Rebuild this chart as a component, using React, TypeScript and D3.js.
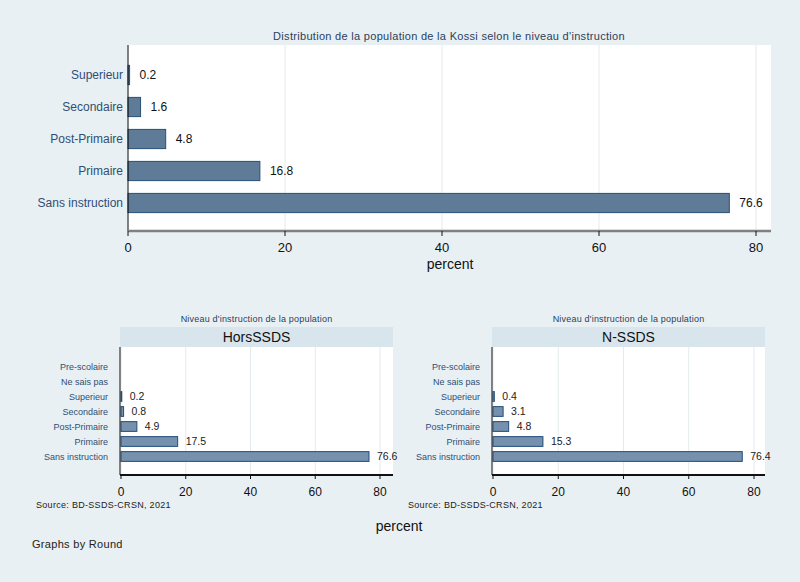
import React from "react";
import * as d3 from "d3";

const topCategories = ["Superieur", "Secondaire", "Post-Primaire", "Primaire", "Sans instruction"];
const topValues = [0.2, 1.6, 4.8, 16.8, 76.6];
const topLabels = ["0.2", "1.6", "4.8", "16.8", "76.6"];

const subCategories = ["Pre-scolaire", "Ne sais pas", "Superieur", "Secondaire", "Post-Primaire", "Primaire", "Sans instruction"];
const horsValues: (number | null)[] = [null, null, 0.2, 0.8, 4.9, 17.5, 76.6];
const horsLabels = ["", "", "0.2", "0.8", "4.9", "17.5", "76.6"];
const nValues: (number | null)[] = [null, null, 0.4, 3.1, 4.8, 15.3, 76.4];
const nLabels = ["", "", "0.4", "3.1", "4.8", "15.3", "76.4"];
const xTicks = [0, 20, 40, 60, 80];

const BG = "#e9f0f3";
const LABEL = "#2e4f74";
const FONT = "Liberation Sans, Arial, sans-serif";

function TopChart() {
  const x = d3.scaleLinear().domain([0, 80]).range([128, 756]);
  const y = d3.scaleBand().domain(topCategories).range([59, 219]).paddingInner(0.4).paddingOuter(0.2);
  const left = 128, right = 771, top = 45, bottom = 231;
  return (
    <g>
      <text x={449} y={40} textAnchor="middle" fontSize={11} letterSpacing={0.3} fill="#2a3f5c" fontFamily={FONT}>
        Distribution de la population de la Kossi selon le niveau d'instruction
      </text>
      <rect x={left} y={top} width={right - left} height={bottom - top} fill="#ffffff" />
      {xTicks.map((t) => (
        <line key={t} x1={x(t)} x2={x(t)} y1={top} y2={bottom} stroke="#e3eaee" strokeWidth={1} />
      ))}
      {topCategories.map((c, i) => (
        <g key={c}>
          <rect x={x(0)} y={y(c)!} width={x(topValues[i]) - x(0)} height={y.bandwidth()}
            fill="#5e7b97" stroke="#2a5078" strokeWidth={1} />
          <text x={x(topValues[i]) + 10} y={y(c)! + y.bandwidth() / 2 + 4} fontSize={12} fill="#111" fontFamily={FONT}>
            {topLabels[i]}
          </text>
          <text x={123} y={y(c)! + y.bandwidth() / 2 + 4} textAnchor="end" fontSize={12} fill={LABEL} fontFamily={FONT}>
            {c}
          </text>
        </g>
      ))}
      <line x1={left} x2={left} y1={top} y2={bottom} stroke="#111" strokeWidth={1} />
      <line x1={left} x2={right} y1={bottom} y2={bottom} stroke="#808080" strokeWidth={2.5} />
      {xTicks.map((t) => (
        <g key={t}>
          <line x1={x(t)} x2={x(t)} y1={bottom} y2={bottom + 5} stroke="#111" />
          <text x={x(t)} y={bottom + 21} textAnchor="middle" fontSize={13} fill="#111" fontFamily={FONT}>
            {t}
          </text>
        </g>
      ))}
      <text x={450} y={269} textAnchor="middle" fontSize={14} fill="#111" fontFamily={FONT}>
        percent
      </text>
    </g>
  );
}

function SubChart({ x0, x80, right, title, values, labels }: { x0: number; x80: number; right: number; title: string; values: (number | null)[]; labels: string[] }) {
  const x = d3.scaleLinear().domain([0, 80]).range([x0, x80]);
  const top = 347, bottom = 475, left = x0 - 1;
  const y = d3.scaleBand().domain(subCategories).range([359, 464]).paddingInner(0.35).paddingOuter(0.175);
  const stripLeft = x0 - 1;
  return (
    <g>
      <text x={(stripLeft + right) / 2} y={322} textAnchor="middle" fontSize={9} letterSpacing={0.2} fill="#2a3f5c" fontFamily={FONT}>
        Niveau d'instruction de la population
      </text>
      <rect x={stripLeft} y={327} width={right - stripLeft} height={20} fill="#d9e5ec" />
      <text x={(stripLeft + right) / 2} y={342} textAnchor="middle" fontSize={14} fill="#111" fontFamily={FONT}>
        {title}
      </text>
      <rect x={left} y={top} width={right - left} height={bottom - top} fill="#ffffff" />
      {xTicks.map((t) => (
        <line key={t} x1={x(t)} x2={x(t)} y1={top} y2={bottom} stroke="#e3eaee" strokeWidth={1} />
      ))}
      {subCategories.map((c, i) => {
        const v = values[i];
        const cy = y(c)! + y.bandwidth() / 2;
        return (
          <g key={c}>
            {v !== null && (
              <rect x={x(0)} y={y(c)!} width={Math.max(x(v) - x(0), 0.8)} height={y.bandwidth()}
                fill="#7591ad" stroke="#1f4e7a" strokeWidth={1} />
            )}
            {v !== null && (
              <text x={x(v) + 8} y={cy + 3.5} fontSize={10.5} fill="#222" fontFamily={FONT}>
                {labels[i]}
              </text>
            )}
            <text x={x0 - 13} y={cy + 3} textAnchor="end" fontSize={9} fill={LABEL} fontFamily={FONT}>
              {c}
            </text>
          </g>
        );
      })}
      <line x1={left} x2={left} y1={top} y2={bottom} stroke="#111" strokeWidth={1} />
      <line x1={left} x2={right} y1={bottom} y2={bottom} stroke="#111" strokeWidth={2} />
      {xTicks.map((t) => (
        <g key={t}>
          <line x1={x(t)} x2={x(t)} y1={bottom} y2={bottom + 4} stroke="#111" />
          <text x={x(t)} y={bottom + 21} textAnchor="middle" fontSize={12} fill="#111" fontFamily={FONT}>
            {t}
          </text>
        </g>
      ))}
      <text x={x0 - 85} y={508} fontSize={9} letterSpacing={0.3} fill="#222" fontFamily={FONT}>
        Source:  BD-SSDS-CRSN, 2021
      </text>
    </g>
  );
}

export default function App() {
  return (
    <svg width={800} height={582} style={{ display: "block", position: "absolute", left: 0, top: 0 }}>
      <rect x={0} y={0} width={800} height={582} fill={BG} />
      <TopChart />
      <SubChart x0={121} x80={380} right={393} title="HorsSSDS" values={horsValues} labels={horsLabels} />
      <SubChart x0={493} x80={754} right={765} title="N-SSDS" values={nValues} labels={nLabels} />
      <text x={399} y={531} textAnchor="middle" fontSize={14} fill="#111" fontFamily={FONT}>
        percent
      </text>
      <text x={32} y={548} fontSize={11} letterSpacing={0.3} fill="#222" fontFamily={FONT}>
        Graphs by Round
      </text>
    </svg>
  );
}
